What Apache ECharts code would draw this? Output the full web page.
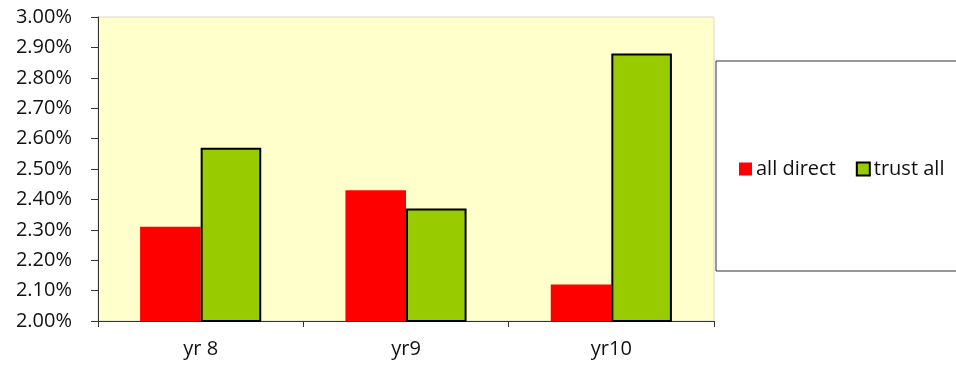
<!DOCTYPE html>
<html>
<head>
<meta charset="utf-8">
<script src="https://cdn.jsdelivr.net/npm/echarts@6/dist/echarts.min.js"></script>
<style>
  html, body { margin: 0; padding: 0; background: #ffffff; }
  #chart { width: 956px; height: 376px; }
</style>
</head>
<body>
<div id="chart"></div>
<script>
// Categories and yield values (percent)
const categories = ['yr 8', 'yr9', 'yr10'];
const allDirect = [2.31, 2.43, 2.12];
const trustAll = [2.57, 2.37, 2.88];
const seriesNames = ['all direct', 'trust all'];

const FONT = 'Open Sans';

const chart = echarts.init(document.getElementById('chart'), null, { renderer: 'canvas' });

chart.setOption({
  animation: false,
  backgroundColor: '#ffffff',
  grid: {
    left: 98, top: 17, width: 616, height: 304,
    show: true,
    backgroundColor: '#FFFFCC',
    borderColor: '#d8d8c8',
    borderWidth: 1
  },
  graphic: [{
    type: 'rect',
    shape: { x: 716, y: 61, width: 260, height: 210 },
    style: { fill: '#ffffff', stroke: '#333333', lineWidth: 1 },
    z: 0
  }],
  legend: {
    left: 734, top: 154,
    itemWidth: 13, itemHeight: 13, itemGap: 20,
    icon: 'rect',
    textStyle: { fontFamily: FONT, fontSize: 20, color: '#111111', padding: [0, 0, 0, -1] },
    data: seriesNames,
    z: 5
  },
  xAxis: {
    type: 'category',
    data: categories,
    axisLine: { show: true, lineStyle: { color: '#333333', width: 1 } },
    axisTick: { show: true, inside: false, length: 6, lineStyle: { color: '#333333' } },
    axisLabel: { fontFamily: FONT, fontSize: 20, color: '#111111', margin: 18 },
    splitLine: { show: false }
  },
  yAxis: {
    type: 'value',
    min: 2.0, max: 3.0, interval: 0.1,
    axisLine: { show: true, lineStyle: { color: '#333333', width: 1 } },
    axisTick: { show: true, inside: false, length: 7, lineStyle: { color: '#333333' } },
    axisLabel: {
      fontFamily: FONT, fontSize: 20, color: '#111111', margin: 26,
      formatter: v => v.toFixed(2) + '%'
    },
    splitLine: { show: false }
  },
  series: [
    {
      name: seriesNames[0],
      type: 'bar',
      data: allDirect,
      barGap: '0%',
      barCategoryGap: '41%',
      itemStyle: { color: '#FF0000' }
    },
    {
      name: seriesNames[1],
      type: 'bar',
      data: trustAll,
      barGap: '0%',
      barCategoryGap: '41%',
      itemStyle: { color: '#99CC00', borderColor: '#000000', borderWidth: 2 }
    }
  ]
});
</script>
</body>
</html>
